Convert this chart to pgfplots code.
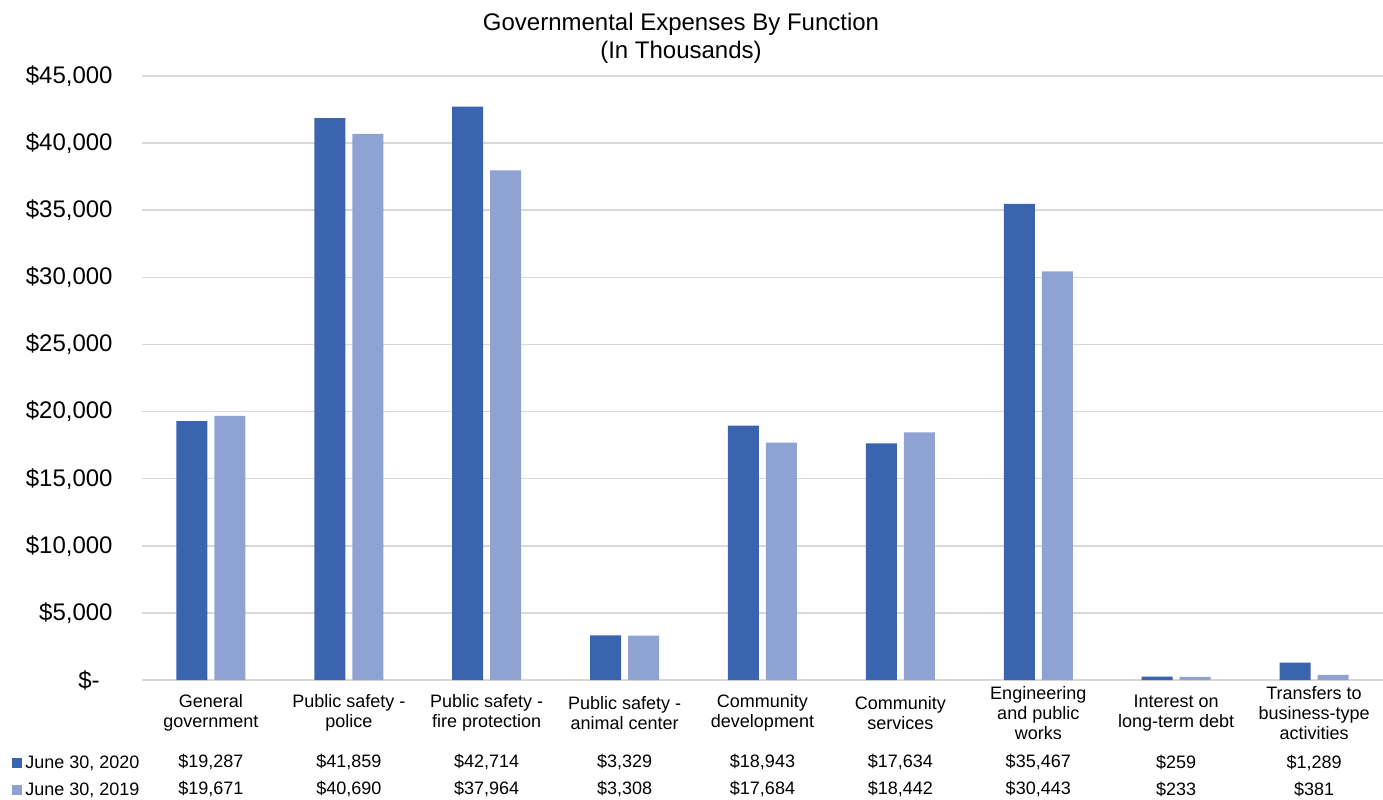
\documentclass[border=0pt]{standalone}
\usepackage{pgfplots}
\pgfplotsset{compat=1.18}
\usepackage{fontspec}
\setmainfont{Liberation Sans}
\definecolor{dk}{HTML}{3A64AD}
\definecolor{lt}{HTML}{8FA3D3}
\definecolor{gridc}{RGB}{217,217,217}
\begin{document}
\begin{tikzpicture}
\useasboundingbox (0,0) rectangle (691.5pt,399.5pt);
\node[align=center, font=\fontsize{12}{14}\selectfont, inner sep=0pt] at (340.5pt,380.5pt) {Governmental Expenses By Function\\(In Thousands)};
\begin{axis}[
  at={(71pt,59.5pt)}, anchor=south west,
  scale only axis, width=620.5pt, height=302pt,
  xmin=-0.5, xmax=8.5, ymin=0, ymax=45000,
  scaled y ticks=false,
  axis line style={draw=none},
  major tick length=0pt,
  ymajorgrids, grid style={gridc, line width=0.75pt},
  ytick={0,5000,10000,15000,20000,25000,30000,35000,40000,45000},
  yticklabels={\$-\hspace*{6.5pt},{\$5,000},{\$10,000},{\$15,000},{\$20,000},{\$25,000},{\$30,000},{\$35,000},{\$40,000},{\$45,000}},
  yticklabel style={anchor=east, inner sep=0pt, xshift=-14.5pt, font=\fontsize{12}{14}\selectfont},
  /pgf/number format/assume math mode=true,
  xtick={0,1,2,3,4,5,6,7,8},
  xticklabels={General\\government, Public safety -\\police, Public safety -\\fire protection, Public safety -\\animal center, Community\\development, Community\\services, Engineering\\and public\\works, Interest on\\long-term debt, Transfers to\\business-type\\activities},
  xticklabel style={align=center, anchor=center, inner sep=0pt, yshift=-16.5pt, font=\fontsize{9}{10.1}\selectfont},
  extra x ticks={0,1,2,3,4,5,6,7,8},
  extra x tick labels={{\$19,287\\\$19,671},{\$41,859\\\$40,690},{\$42,714\\\$37,964},{\$3,329\\\$3,308},{\$18,943\\\$17,684},{\$17,634\\\$18,442},{\$35,467\\\$30,443},{\$259\\\$233},{\$1,289\\\$381}},
  extra x tick style={grid=none, xticklabel style={yshift=-31.25pt, font=\fontsize{9}{13.5}\selectfont}},
  clip=false,
  legend style={at={(-0.1048,-0.1225)}, anchor=north west, draw=none, fill=none, inner sep=0pt,
    font=\fontsize{9}{10}\selectfont, row sep=4.5pt,
    nodes={inner sep=0pt, text height=7pt, text depth=2pt}},
  legend cell align=left,
  legend image code/.code={\fill[#1] (0pt,-2.5pt) rectangle (5pt,2.5pt);},
  /tikz/every odd column/.append style={column sep=1.5pt},
]
\addplot[ybar, bar width=15.5pt, bar shift=-9.5pt, fill=dk, draw=none] coordinates {(0,19287) (1,41859) (2,42714) (3,3329) (4,18943) (5,17634) (6,35467) (7,259) (8,1289)};
\addlegendentry{June 30, 2020}
\addplot[ybar, bar width=15.5pt, bar shift=9.5pt, fill=lt, draw=none] coordinates {(0,19671) (1,40690) (2,37964) (3,3308) (4,17684) (5,18442) (6,30443) (7,233) (8,381)};
\addlegendentry{June 30, 2019}
\end{axis}
\end{tikzpicture}
\end{document}
